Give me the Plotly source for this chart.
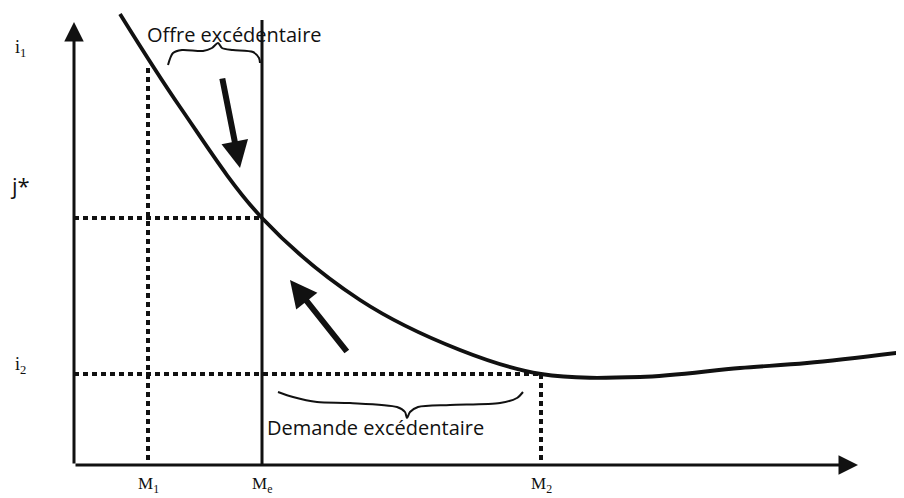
import plotly.graph_objects as go

# ---- data (schematic units: money on x, interest rate on y) ----
curve_x = [4.6, 10.6, 18.8, 28.6, 38.6, 46.7, 56.6, 66.6, 73.3, 83.0]
curve_y = [45.1, 35.8, 24.7, 16.5, 11.5, 9.1, 8.8, 9.7, 10.2, 11.3]

M1, Me, M2 = 7.4, 18.8, 46.7
i1_on_curve = 39.8
i_star = 24.7
i2 = 9.1
x_axis_end = 78.4
y_axis_end = 44.3
me_top = 44.5

x_tick_labels = ["M<sub>1</sub>", "M<sub>e</sub>", "M<sub>2</sub>"]
y_tick_labels = ["i<sub>1</sub>", "j*", "i<sub>2</sub>"]
y_label_pos = [41.7, 28.0, 10.0]

offre_brace_x = [9.4, 9.9, 10.8, 12.9, 13.8, 14.4, 14.8, 15.9, 17.9, 18.5, 18.6]
offre_brace_y = [40.0, 41.2, 41.5, 41.4, 41.7, 42.2, 41.7, 41.5, 41.3, 40.7, 40.2]
demande_brace_x = [20.4, 21.9, 24.3, 27.6, 32.3, 33.1, 33.3, 33.6, 34.4, 37.6, 42.6, 44.3, 44.9]
demande_brace_y = [7.3, 6.8, 6.3, 6.2, 5.8, 5.3, 4.7, 5.3, 5.8, 6.0, 6.2, 6.7, 7.3]

arrow_down = dict(tail=(14.8, 38.8), tip=(16.6, 29.7))
arrow_up = dict(tail=(27.4, 11.2), tip=(21.6, 18.5))

BLACK = "#111111"
dot_style = dict(color=BLACK, width=4, dash="5px,4px")

fig = go.Figure()

# dotted guide lines
fig.add_trace(go.Scatter(x=[M1, M1], y=[0.5, i1_on_curve], mode="lines", line=dot_style, hoverinfo="skip"))
fig.add_trace(go.Scatter(x=[M2, M2], y=[0.5, i2], mode="lines", line=dot_style, hoverinfo="skip"))
fig.add_trace(go.Scatter(x=[0, Me], y=[i_star, i_star], mode="lines", line=dot_style, hoverinfo="skip"))
fig.add_trace(go.Scatter(x=[0, M2], y=[i2, i2], mode="lines", line=dot_style, hoverinfo="skip"))

# money supply (vertical)
fig.add_trace(go.Scatter(x=[Me, Me], y=[0, me_top], mode="lines", line=dict(color=BLACK, width=3), hoverinfo="skip"))

# demand curve
fig.add_trace(go.Scatter(x=curve_x, y=curve_y, mode="lines",
                         line=dict(color=BLACK, width=3.8, shape="spline", smoothing=1.0), hoverinfo="skip"))

# braces
fig.add_trace(go.Scatter(x=offre_brace_x, y=offre_brace_y, mode="lines",
                         line=dict(color=BLACK, width=2, shape="spline", smoothing=0.8), hoverinfo="skip"))
fig.add_trace(go.Scatter(x=demande_brace_x, y=demande_brace_y, mode="lines",
                         line=dict(color=BLACK, width=2, shape="spline", smoothing=0.8), hoverinfo="skip"))

annotations = []
# axes with arrows
annotations.append(dict(x=0, y=y_axis_end, ax=0, ay=0, xref="x", yref="y", axref="x", ayref="y",
                        showarrow=True, arrowhead=2, arrowsize=1.3, arrowwidth=3, arrowcolor=BLACK, text=""))
annotations.append(dict(x=x_axis_end, y=0, ax=0, ay=0, xref="x", yref="y", axref="x", ayref="y",
                        showarrow=True, arrowhead=2, arrowsize=1.3, arrowwidth=3, arrowcolor=BLACK, text=""))
# movement arrows
for a in (arrow_down, arrow_up):
    annotations.append(dict(x=a["tip"][0], y=a["tip"][1], ax=a["tail"][0], ay=a["tail"][1],
                            xref="x", yref="y", axref="x", ayref="y",
                            showarrow=True, arrowhead=2, arrowsize=0.9, arrowwidth=6, arrowcolor=BLACK, text=""))

for lab, xv in zip(x_tick_labels, [M1, Me, M2]):
    annotations.append(dict(x=xv, y=-2.0, text=lab, showarrow=False, xanchor="center", yanchor="middle",
                            font=dict(family="Liberation Serif", size=17, color=BLACK)))
for lab, yv in zip(y_tick_labels, y_label_pos):
    star = "*" in lab
    annotations.append(dict(x=-5.4, y=yv, text=lab, showarrow=False, xanchor="center", yanchor="middle",
                            font=dict(family="Open Sans" if star else "Liberation Serif",
                                      size=22 if star else 18, color=BLACK)))

text_font = dict(family="Open Sans", size=20, color=BLACK)
annotations.append(dict(x=7.1, y=43.1, text="Offre excédentaire", showarrow=False,
                        xanchor="left", yanchor="middle", font=text_font))
annotations.append(dict(x=19.1, y=3.8, text="Demande excédentaire", showarrow=False,
                        xanchor="left", yanchor="middle", font=text_font))

# the page body keeps an 8px margin, so the figure is 896x490 and placed at (8, 8)
fig.update_layout(
    width=896, height=490,
    margin=dict(l=0, r=0, t=0, b=0),
    paper_bgcolor="white", plot_bgcolor="white",
    showlegend=False,
    xaxis=dict(range=[-6.6, 83.0], visible=False, fixedrange=True),
    yaxis=dict(range=[-3.3, 45.7], visible=False, fixedrange=True),
    annotations=annotations,
)

fig.write_html("out.html")
